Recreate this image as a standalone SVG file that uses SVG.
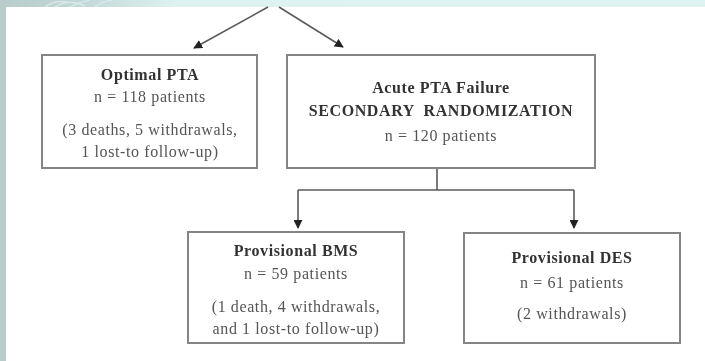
<svg xmlns="http://www.w3.org/2000/svg" width="705" height="361" viewBox="0 0 705 361">
  <defs>
    <marker id="arrow" viewBox="0 0 10 10" refX="9" refY="5" markerWidth="9" markerHeight="9" markerUnits="userSpaceOnUse" orient="auto">
      <path d="M0,0 L10,5 L0,10 z" fill="#222"/>
    </marker>
    <linearGradient id="band" x1="0" y1="0" x2="1" y2="0">
      <stop offset="0" stop-color="#b9cccb"/>
      <stop offset="0.12" stop-color="#c3d8d8"/>
      <stop offset="0.25" stop-color="#dff2f2"/>
      <stop offset="1" stop-color="#e0f3f3"/>
    </linearGradient>
    <filter id="soft" x="-5%" y="-5%" width="110%" height="110%">
      <feGaussianBlur stdDeviation="0.45"/>
    </filter>
  </defs>
  <style>
    .box { fill: #ffffff; stroke: #858585; stroke-width: 2; }
    .conn { fill: none; stroke: #5a5a5a; stroke-width: 1.6; }
    .t { font-family: "Liberation Serif", "Times New Roman", serif; font-size: 16px; letter-spacing: 0.6px; text-anchor: middle; }
    .h { font-weight: bold; fill: #333333; }
    .r { fill: #555555; }
  </style>

  <!-- page backdrop: pale band on top, grey-teal strip on the left -->
  <rect x="0" y="0" width="705" height="361" fill="url(#band)"/>
  <rect x="0" y="0" width="6" height="361" fill="#b9cccb"/>
  <g fill="none" stroke="#eef8f8" stroke-width="1.2" opacity="0.6">
    <path d="M45,7 C52,2 60,0 70,3"/>
    <path d="M55,7 C65,1 75,1 85,6"/>
    <path d="M70,7 C78,3 82,2 90,0"/>
    <path d="M95,7 C100,3 106,1 112,0"/>
  </g>
  <rect x="6" y="7" width="699" height="354" fill="#ffffff"/>

  <g filter="url(#soft)">
    <!-- connectors -->
    <g id="connectors">
      <path class="conn" d="M268,7 L194,48" marker-end="url(#arrow)"/>
      <path class="conn" d="M279,7 L343,47" marker-end="url(#arrow)"/>
      <path class="conn" d="M437,168 L437,190"/>
      <path class="conn" d="M298,190 L574,190"/>
      <path class="conn" d="M298,190 L298,228" marker-end="url(#arrow)"/>
      <path class="conn" d="M574,190 L574,228" marker-end="url(#arrow)"/>
    </g>

    <g id="optimal-pta">
      <rect class="box" x="42" y="55" width="215" height="113"/>
      <text class="t h" x="150" y="80">Optimal PTA</text>
      <text class="t r" x="150" y="102">n = 118 patients</text>
      <text class="t r" x="150" y="135">(3 deaths, 5 withdrawals,</text>
      <text class="t r" x="150" y="157">1 lost-to follow-up)</text>
    </g>

    <g id="acute-pta-failure">
      <rect class="box" x="287" y="55" width="308" height="113"/>
      <text class="t h" x="441" y="93">Acute PTA Failure</text>
      <text class="t h" x="441" y="116" xml:space="preserve">SECONDARY  RANDOMIZATION</text>
      <text class="t r" x="441" y="141">n = 120 patients</text>
    </g>

    <g id="provisional-bms">
      <rect class="box" x="188" y="232" width="216" height="111"/>
      <text class="t h" x="296" y="256">Provisional BMS</text>
      <text class="t r" x="296" y="279">n = 59 patients</text>
      <text class="t r" x="296" y="312">(1 death, 4 withdrawals,</text>
      <text class="t r" x="296" y="334">and 1 lost-to follow-up)</text>
    </g>

    <g id="provisional-des">
      <rect class="box" x="464" y="233" width="216" height="110"/>
      <text class="t h" x="572" y="263">Provisional DES</text>
      <text class="t r" x="572" y="288">n = 61 patients</text>
      <text class="t r" x="572" y="319">(2 withdrawals)</text>
    </g>
  </g>
</svg>
